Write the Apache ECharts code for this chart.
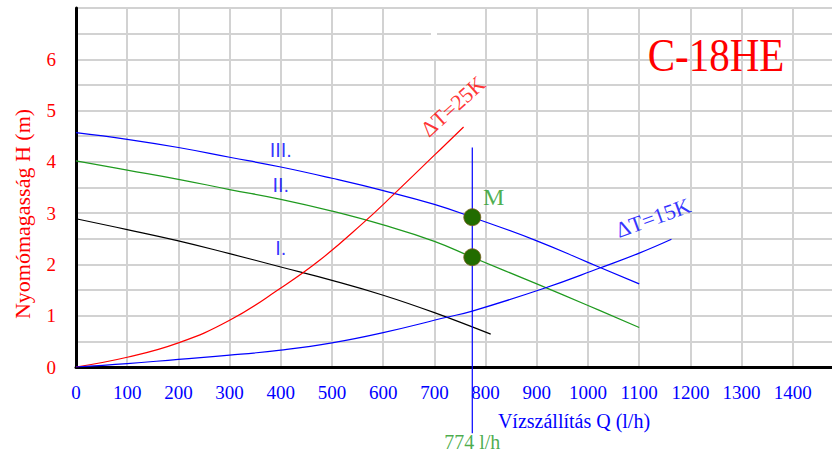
<!DOCTYPE html>
<html>
<head>
<meta charset="utf-8">
<title>C-18HE</title>
<script src="https://cdn.jsdelivr.net/npm/echarts@6/dist/echarts.min.js"></script>
<style>
  html, body { margin: 0; padding: 0; background: #fff; }
  #chart { width: 832px; height: 454px; }
</style>
</head>
<body>
<div id="chart"></div>
<script>
// Pump curves for speeds I., II., III. (flow Q in l/h, head H in m)
const qIII = [0, 100, 200, 300, 400, 500, 600, 700, 774, 900, 1000, 1100];
const hIII = [4.57, 4.44, 4.28, 4.09, 3.90, 3.68, 3.44, 3.17, 2.92, 2.46, 2.04, 1.62];
const qII = [0, 100, 200, 300, 400, 500, 600, 700, 774, 900, 1000, 1100];
const hII = [4.02, 3.84, 3.66, 3.46, 3.27, 3.04, 2.77, 2.45, 2.14, 1.62, 1.20, 0.77];
const qI = [0, 100, 200, 300, 400, 500, 600, 700, 810];
const hI = [2.89, 2.68, 2.46, 2.21, 1.95, 1.69, 1.40, 1.06, 0.64];

// System curves for temperature drops of 25 K and 15 K
const qDT25 = [0, 100, 200, 300, 400, 477, 561, 620, 700, 757];
const hDT25 = [0, 0.19, 0.47, 0.91, 1.54, 2.09, 2.81, 3.36, 4.13, 4.68];
const qDT15 = [0, 100, 200, 300, 400, 500, 600, 724, 774, 916, 1023, 1100, 1163];
const hDT15 = [0, 0.065, 0.15, 0.23, 0.33, 0.47, 0.67, 0.97, 1.09, 1.54, 1.93, 2.22, 2.49];

// Operating flow and the two duty points on it
const dutyQ = 774;
const dutyH = [2.92, 2.14];
const dutyLineH = [4.28, -1.29];

// Curve labels placed in data coordinates
const noteText = ['III.', 'II.', 'I.', 'ΔT=25K', 'ΔT=15K', 'M', '774 l/h'];
const noteQ = [400, 400, 400, 736, 1127, 816, 774];
const noteH = [4.24, 3.55, 2.32, 5.08, 2.91, 3.32, -1.46];

const SERIF = '"Liberation Serif", "Times New Roman", serif';
const SANS = '"Liberation Sans", Arial, sans-serif';
const BLUE = '#0000ff';
const RED = '#ff0000';
const GREEN = '#1f9a1f';

const zip = (q, h) => q.map((v, i) => [v, h[i]]);

const noteStyles = [
  { color: BLUE, fontSize: 20, fontFamily: SANS, rotate: 0 },
  { color: BLUE, fontSize: 20, fontFamily: SANS, rotate: 0 },
  { color: BLUE, fontSize: 20, fontFamily: SANS, rotate: 0 },
  { color: RED, fontSize: 22, fontFamily: SERIF, rotate: 42 },
  { color: BLUE, fontSize: 22, fontFamily: SERIF, rotate: 20 },
  { color: GREEN, fontSize: 24, fontFamily: SERIF, rotate: 0 },
  { color: '#1c971c', fontSize: 20, fontFamily: SERIF, rotate: 0 }
];

const notes = noteText.map((t, i) => ({
  name: t,
  value: [noteQ[i], noteH[i]],
  label: noteStyles[i]
}));

function curve(name, q, h, color) {
  return {
    name: name,
    type: 'line',
    data: zip(q, h),
    smooth: 0.45,
    symbol: 'none',
    lineStyle: { color: color, width: 1.2 },
    z: 3
  };
}

const chart = echarts.init(document.getElementById('chart'), null, { renderer: 'svg' });

chart.setOption({
  animation: false,
  backgroundColor: '#ffffff',
  grid: {
    left: 76, top: 8, width: 768, height: 359,
    outerBoundsMode: 'none',
    containLabel: false,
    show: true, borderColor: '#000', borderWidth: 1, backgroundColor: 'transparent'
  },
  xAxis: {
    type: 'value', min: 0, max: 1500, interval: 100,
    axisLine: { show: true, onZero: false, lineStyle: { color: '#000', width: 3 } },
    axisTick: { show: false },
    axisLabel: {
      color: BLUE, fontFamily: SERIF, fontSize: 19, margin: 16,
      formatter: v => (v >= 1500 ? '' : String(v))
    },
    splitLine: { show: true, lineStyle: { color: '#d2d2d2', width: 2 } }
  },
  yAxis: {
    type: 'value', min: 0, max: 7, interval: 0.5,
    axisLine: { show: true, lineStyle: { color: '#000', width: 3 } },
    axisTick: { show: false },
    axisLabel: {
      color: RED, fontFamily: SERIF, fontSize: 19, margin: 20,
      formatter: v => (Number.isInteger(v) && v < 7 ? String(v) : '')
    },
    splitLine: { show: true, lineStyle: { color: '#d2d2d2', width: 2 } }
  },
  graphic: [
    { type: 'rect', z: 1, shape: { x: 431, y: 9, width: 6, height: 50 }, style: { fill: '#fff' } },
    {
      type: 'text', z: 10, x: 716, y: 56, scaleY: 1.15,
      style: { text: 'C-18HE', fill: RED, font: '41px ' + SERIF, textAlign: 'center', textVerticalAlign: 'middle' }
    },
    {
      type: 'text', z: 10, x: 574, y: 421,
      style: { text: 'Vízszállítás Q (l/h)', fill: BLUE, font: '20px ' + SERIF, textAlign: 'center', textVerticalAlign: 'middle' }
    },
    {
      type: 'text', z: 10, x: 22, y: 214, rotation: Math.PI / 2,
      style: { text: 'Nyomómagasság H (m)', fill: RED, font: '22px ' + SERIF, textAlign: 'center', textVerticalAlign: 'middle' }
    }
  ],
  series: [
    curve('III.', qIII, hIII, BLUE),
    curve('II.', qII, hII, GREEN),
    curve('I.', qI, hI, '#000000'),
    curve('ΔT=25K', qDT25, hDT25, RED),
    curve('ΔT=15K', qDT15, hDT15, BLUE),
    {
      name: 'Q munkapont',
      type: 'line',
      clip: false,
      symbol: 'none',
      data: [[dutyQ, dutyLineH[0]], [dutyQ, dutyLineH[1]]],
      lineStyle: { color: BLUE, width: 1.2 },
      z: 4
    },
    {
      name: 'munkapontok',
      type: 'scatter',
      data: dutyH.map(h => [dutyQ, h]),
      symbolSize: 17,
      itemStyle: { color: '#216c00', opacity: 1, borderColor: '#7a6020', borderWidth: 0.8 },
      z: 6
    },
    {
      name: 'feliratok',
      type: 'scatter',
      clip: false,
      data: notes,
      symbolSize: 1,
      itemStyle: { color: 'rgba(0,0,0,0)' },
      label: { show: true, position: 'inside', formatter: p => p.name },
      silent: true,
      z: 7
    }
  ]
});
</script>
</body>
</html>
